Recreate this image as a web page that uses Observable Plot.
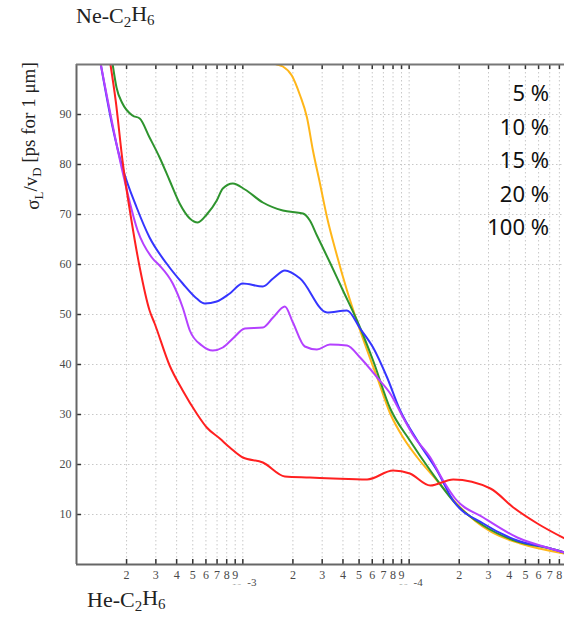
<!DOCTYPE html>
<html><head><meta charset="utf-8">
<script src="https://cdn.jsdelivr.net/npm/d3@7"></script>
<script src="https://cdn.jsdelivr.net/npm/@observablehq/plot@0.6"></script>
<style>
body{margin:0;background:#fff}
#wrap{position:relative;width:564px;height:620px}
#wrap svg{display:block}
#legend{position:absolute;right:15px;top:76px;text-align:right;font-family:"Noto Sans",sans-serif;font-size:22px;line-height:33.5px;color:#111}
</style>
</head><body><div id="wrap"><div id="legend"></div></div>
<script>
// ---- tick values / labels ----
const yTicks = [10, 20, 30, 40, 50, 60, 70, 80, 90];
const xTicks = [2e-4,3e-4,4e-4,5e-4,6e-4,7e-4,8e-4,9e-4,1e-3,
                2e-3,3e-3,4e-3,5e-3,6e-3,7e-3,8e-3,9e-3,1e-2,
                2e-2,3e-2,4e-2,5e-2,6e-2,7e-2,8e-2];
const xTickLabels = ["2","3","4","5","6","7","8","9","",
                     "2","3","4","5","6","7","8","9","",
                     "2","3","4","5","6","7","8"];
const decadeTicks = [1e-3, 1e-2];
const decadeExponents = ["-3", "-4"];
const legendLabels = ["5 %", "10 %", "15 %", "20 %", "100 %"];

// ---- series ----
const redX = [1.60e-4,1.72e-4,1.89e-4,2.14e-4,2.40e-4,2.75e-4,2.95e-4,3.63e-4,4.35e-4,5.28e-4,6.07e-4,7.27e-4,8.35e-4,1.00e-3,1.32e-3,1.79e-3,2.53e-3,3.49e-3,5.59e-3,8.01e-3,1.01e-2,1.34e-2,1.84e-2,3.08e-2,4.23e-2,5.90e-2,8.59e-2];
const redY = [100,92.8,80.8,68.8,59.4,50.8,48.2,39.8,34.8,30.2,27.4,25.2,23.4,21.4,20.4,17.6,17.4,17.2,17.0,18.8,18.2,15.8,17.0,15.2,11.4,8.2,5.2];

const blueX = [1.40e-4,1.65e-4,1.89e-4,2.30e-4,2.75e-4,3.48e-4,4.35e-4,5.28e-4,5.90e-4,6.97e-4,8.35e-4,1.00e-3,1.32e-3,1.52e-3,1.79e-3,2.21e-3,3.21e-3,4.23e-3,5.07e-3,6.07e-3,7.37e-3,8.83e-3,1.12e-2,1.47e-2,1.84e-2,2.79e-2,4.47e-2,7.07e-2,8.59e-2];
const blueY = [100,87.4,79.4,71.4,65.4,60.2,56.2,53.2,52.2,52.6,54.2,56.2,55.6,57.2,58.8,57.2,50.4,50.8,47.2,43.4,37.4,30.8,24.8,18.8,12.8,8.2,4.8,3.2,2.4];

const purpleX = [1.40e-4,1.89e-4,2.33e-4,2.87e-4,3.16e-4,3.79e-4,4.35e-4,4.80e-4,5.67e-4,6.60e-4,7.58e-4,8.71e-4,1.03e-3,1.32e-3,1.52e-3,1.79e-3,2.00e-3,2.36e-3,2.79e-3,3.34e-3,4.23e-3,5.07e-3,6.42e-3,7.69e-3,9.20e-3,1.06e-2,1.34e-2,1.60e-2,1.89e-2,2.79e-2,4.47e-2,7.07e-2,8.59e-2];
const purpleY = [100,78.6,66.8,61.2,59.8,56.2,51.4,46.8,43.8,42.8,43.4,45.2,47.2,47.4,49.4,51.6,48.4,43.6,43.0,44.0,43.8,41.4,37.4,34.2,29.4,25.8,21.4,16.8,13.2,9.4,5.4,3.2,2.4];

const greenX = [1.65e-4,1.74e-4,1.89e-4,2.17e-4,2.40e-4,2.75e-4,3.16e-4,3.63e-4,4.17e-4,4.80e-4,5.36e-4,6.07e-4,6.97e-4,7.58e-4,8.71e-4,1.03e-3,1.32e-3,1.74e-3,2.30e-3,2.53e-3,2.79e-3,3.34e-3,4.00e-3,4.86e-3,6.07e-3,7.69e-3,1.01e-2,1.34e-2,1.95e-2,2.79e-2,4.47e-2,7.07e-2,8.59e-2];
const greenY = [100,95.4,92.2,89.8,89.2,85.4,81.4,76.8,72.2,69.2,68.4,70.0,72.8,75.2,76.2,75.0,72.4,70.8,70.2,68.8,65.8,60.4,54.8,48.8,40.8,31.2,24.8,18.8,11.8,7.8,4.6,3.2,2.4];

const orangeX = [1.45e-3,1.60e-3,1.74e-3,1.97e-3,2.21e-3,2.43e-3,2.64e-3,2.91e-3,3.21e-3,3.68e-3,4.23e-3,5.07e-3,6.42e-3,7.69e-3,9.20e-3,1.12e-2,1.47e-2,2.03e-2,3.08e-2,4.66e-2,8.59e-2];
const orangeY = [100.5,100,99.6,97.8,93.8,89.4,82.8,76.2,69.4,61.8,54.8,46.8,37.4,30.2,25.4,21.4,16.8,11.4,6.6,4.2,2.2];

const series = [
  {x: orangeX, y: orangeY, color: "#ffb619"},
  {x: greenX,  y: greenY,  color: "#2e942e"},
  {x: blueX,   y: blueY,   color: "#3535ff"},
  {x: purpleX, y: purpleY, color: "#b441ff"},
  {x: redX,    y: redY,    color: "#ff2020"}
];

const serif = "'Liberation Serif', 'DejaVu Serif', serif";
const grid = {stroke: "#c8c8c8", strokeDasharray: "1.5,2.5", strokeWidth: 1};

const lineMarks = series.map(s =>
  Plot.line(s.x.map((v, i) => ({x: v, y: s.y[i]})),
    {x: "x", y: "y", stroke: s.color, strokeWidth: 2, curve: "monotone-x", clip: true}));

const chart = Plot.plot({
  width: 564, height: 620,
  marginLeft: 76, marginRight: 0, marginTop: 64, marginBottom: 56,
  style: {background: "white", fontFamily: serif, overflow: "visible"},
  x: {type: "log", domain: [1e-4, 0.0859], axis: null},
  y: {domain: [0, 100], axis: null},
  marks: [
    Plot.ruleX(xTicks, grid),
    Plot.ruleY(yTicks, grid),
    ...lineMarks,
    Plot.tickX(xTicks, {x: d => d, insetTop: 495, stroke: "#333", strokeWidth: 1.5}),
    Plot.tickX(xTicks, {x: d => d, insetBottom: 495, stroke: "#333", strokeWidth: 1.5}),
    Plot.tickY(yTicks, {y: d => d, insetRight: 483, stroke: "#333", strokeWidth: 1.5}),
    Plot.ruleX([1e-4], {stroke: "#666", strokeWidth: 2}),
    Plot.ruleY([0], {stroke: "#666", strokeWidth: 2}),
    Plot.ruleY([100], {stroke: "#777", strokeWidth: 2}),
    Plot.text(yTicks, {y: d => d, text: d => String(d), frameAnchor: "left", textAnchor: "end", dx: -5, fontSize: 12, fill: "#4a4a4a", fontFamily: serif}),
    Plot.text(xTicks, {x: d => d, text: (d, i) => xTickLabels[i], frameAnchor: "bottom", dy: 11, lineAnchor: "middle", fontSize: 12, fill: "#4a4a4a", fontFamily: serif}),
    Plot.text(decadeTicks, {x: d => d, text: (d, i) => decadeExponents[i], frameAnchor: "bottom", dx: 9, dy: 17.5, lineAnchor: "middle", fontSize: 11, fill: "#4a4a4a", fontFamily: serif}),
    Plot.text(decadeTicks, {x: d => d, text: () => "10", frameAnchor: "bottom", dx: -6, dy: 17, lineAnchor: "middle", fontSize: 10, fill: "#4a4a4a", fontFamily: serif, ariaDescription: "decade-base"})
  ]
});

document.getElementById("wrap").prepend(chart);

const svg = d3.select(chart);
svg.append("defs").append("clipPath").attr("id", "decclip")
  .attr("clipPathUnits", "userSpaceOnUse")
  .append("rect").attr("x", 0).attr("y", 584.5).attr("width", 564).attr("height", 30);
const baseGroup = svg.select('[aria-description="decade-base"]').node();
if (baseGroup) {
  const wrapper = document.createElementNS("http://www.w3.org/2000/svg", "g");
  wrapper.setAttribute("clip-path", "url(#decclip)");
  baseGroup.parentNode.insertBefore(wrapper, baseGroup);
  wrapper.appendChild(baseGroup);
}

function richText(parent, parts, attrs) {
  const t = parent.append("text").attr("text-anchor", "start");
  Object.entries(attrs).forEach(([k, v]) => t.attr(k, v));
  let shifted = false;
  parts.forEach(([s, sub]) => {
    const ts = t.append("tspan").text(s);
    if (sub && !shifted) { ts.attr("dy", "0.3em").attr("font-size", "0.68em"); shifted = true; }
    else if (sub) { ts.attr("font-size", "0.68em"); }
    else if (shifted) { ts.attr("dy", "-0.3em"); shifted = false; }
  });
  return t;
}

richText(svg, [["Ne-C"],["2",1],["H"],["6",1]],
  {x: 76, y: 23, "font-family": serif, "font-size": 22, fill: "#222"});
richText(svg, [["He-C"],["2",1],["H"],["6",1]],
  {x: 87, y: 607, "font-family": serif, "font-size": 22, fill: "#222"});
richText(svg, [["σ"],["L",1],["/v"],["D",1],[" [ps for 1 μm]"]],
  {transform: "translate(39,136) rotate(-90)", "text-anchor": "middle", "font-family": serif, "font-size": 19, fill: "#222"});

const legend = document.getElementById("legend");
legendLabels.forEach(l => { const d = document.createElement("div"); d.textContent = l; legend.appendChild(d); });
</script>
</body></html>
